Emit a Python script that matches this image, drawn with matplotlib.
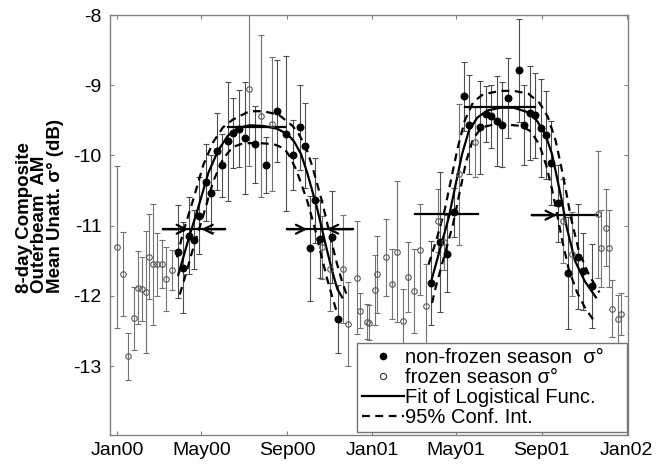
import pandas as pd
import matplotlib
matplotlib.use('Agg')
import matplotlib.pyplot as plt
import matplotlib.dates as mdates

plt.rcParams['font.family'] = ['Liberation Sans', 'DejaVu Sans']
plt.rcParams['axes.unicode_minus'] = False

# 8-day composites, days counted from 1 Jan 2000
nf_day = [88, 94, 104, 111, 118, 127, 135, 143, 151, 159, 167, 175, 183, 198, 214, 229,
          243, 253, 262, 270, 277, 284, 291, 308, 317,
          450, 464, 474, 483, 498, 505, 521, 529, 537, 545, 552, 561, 576, 584, 593,
          600, 608, 615, 623, 632, 647, 661, 668, 681]
nf_sig = [-11.37, -11.60, -11.14, -11.20, -10.86, -10.38, -10.54, -9.94, -10.14, -9.80,
          -9.68, -9.62, -9.75, -9.84, -10.14, -9.37, -9.69, -9.99, -9.60, -9.86, -11.32,
          -10.64, -11.19, -11.16, -12.33,
          -11.82, -11.23, -11.40, -10.81, -9.16, -9.56, -9.60, -9.41, -9.44, -9.51, -9.56,
          -9.18, -8.79, -9.56, -9.40, -9.43, -9.61, -9.71, -10.11, -10.68, -11.67, -11.44,
          -11.65, -11.86]
nf_err = [0.66, 0.65, 0.55, 0.42, 0.55, 0.55, 0.55, 0.55, 0.45, 0.85, 0.50, 0.55, 0.80,
          0.55, 0.40, 0.73, 1.10, 0.50, 0.60, 0.60, 0.75, 0.60, 0.55, 0.65, 0.48,
          0.60, 1.00, 0.55, 0.35, 0.49, 0.70, 0.66, 0.40, 0.45, 0.64, 0.60, 0.57, 0.74,
          0.57, 0.67, 0.60, 0.70, 0.63, 0.60, 0.55, 0.80, 0.75, 0.55, 0.60]

fr_day = [0, 8, 16, 24, 30, 36, 42, 46, 52, 58, 64, 71, 79, 190, 206, 222, 294, 305, 324,
          332, 344, 349, 358,
          362, 370, 373, 386, 394, 401, 410, 418, 426, 435, 443, 460, 469, 490, 513, 640,
          653, 690, 694, 702, 706, 710, 718, 723]
fr_sig = [-11.30, -11.69, -12.86, -12.32, -11.88, -11.90, -11.94, -11.44, -11.55, -11.55,
          -11.55, -11.76, -11.63, -9.05, -9.44, -9.55, -11.31, -11.62, -11.62, -12.40,
          -11.74, -12.21, -12.37,
          -12.38, -11.92, -11.69, -11.45, -11.83, -11.37, -12.35, -11.73, -11.93, -11.34,
          -12.14, -10.93, -11.23, -10.27, -9.81, -10.93, -11.40, -10.84, -11.32, -11.03,
          -11.32, -12.18, -12.33, -12.26]
fr_err = [1.15, 0.60, 0.33, 0.45, 0.52, 0.45, 0.87, 0.60, 0.86, 0.45, 0.34, 0.45, 0.28,
          1.10, 1.15, 0.95, 0.45, 0.60, 0.77, 0.60, 0.80, 0.25, 0.25,
          0.25, 0.50, 0.55, 0.55, 0.50, 1.00, 0.45, 0.50, 0.60, 0.65, 0.60, 0.45, 0.40,
          1.00, 0.50, 0.60, 0.60, 0.90, 0.55, 0.55, 0.55, 0.40, 0.35, 0.30]

# logistic fits and their 95% bounds
fit00_day = [88, 102, 116, 131, 145, 159, 173, 190, 210, 230, 245, 254, 264, 273, 280, 287,
             293, 300, 308, 316, 323]
fit00_sig = [-11.70, -11.21, -10.76, -10.25, -9.93, -9.72, -9.61, -9.57, -9.58, -9.62,
             -9.70, -9.80, -9.98, -10.25, -10.50, -10.75, -11.00, -11.30, -11.62, -11.90,
             -12.02]
up00_day = [86, 95, 109, 124, 138, 152, 166, 190, 210, 232, 252, 261, 271, 280, 287, 294,
            300, 307, 315, 323, 330]
up00_sig = [-11.45, -11.09, -10.64, -10.13, -9.81, -9.60, -9.49, -9.37, -9.37, -9.42,
            -9.58, -9.70, -9.88, -10.15, -10.40, -10.65, -10.90, -11.20, -11.52, -11.80,
            -12.00]
lo00_day = [90, 95, 109, 123, 138, 152, 166, 180, 200, 225, 240, 247, 257, 266, 273, 280,
            286, 293, 301, 309, 315]
lo00_sig = [-11.98, -11.82, -11.33, -10.88, -10.37, -10.05, -9.88, -9.83, -9.82, -9.84,
            -9.90, -10.00, -10.20, -10.45, -10.65, -10.90, -11.12, -11.42, -11.74, -12.02,
            -12.22]

fit01_day = [450, 464, 476, 485, 495, 505, 517, 531, 550, 569, 588, 602, 614, 624, 631, 638,
             645, 657, 671, 687]
fit01_sig = [-11.82, -11.31, -10.88, -10.45, -9.98, -9.64, -9.46, -9.36, -9.32, -9.32,
             -9.38, -9.50, -9.69, -9.98, -10.31, -10.64, -11.02, -11.50, -11.79, -12.02]
up01_day = [447, 458, 470, 479, 489, 499, 511, 525, 550, 569, 590, 606, 618, 629, 637, 644,
            651, 663, 677, 692]
up01_sig = [-11.55, -11.21, -10.78, -10.35, -9.88, -9.50, -9.24, -9.13, -9.08, -9.08,
            -9.12, -9.25, -9.45, -9.78, -10.15, -10.50, -10.88, -11.38, -11.70, -11.95]
lo01_day = [452, 456, 470, 482, 491, 501, 511, 523, 540, 560, 580, 594, 606, 616, 624, 631,
            638, 648, 660, 672, 684]
lo01_sig = [-12.10, -11.92, -11.41, -10.98, -10.55, -10.08, -9.76, -9.60, -9.56, -9.56,
            -9.58, -9.66, -9.85, -10.15, -10.48, -10.82, -11.18, -11.62, -11.95, -12.18,
            -12.35]

# transition markers: (start, end, level, arrow tips)
trans_start = [66, 244, 428, 595]
trans_end = [155, 338, 518, 689]
trans_level = [-11.05, -11.05, -10.84, -10.85]
tip_right = [102, 273, None, 631]
tip_left = [121, 301, None, None]
# plateau segments
plat_start = [159, 499]
plat_end = [241, 600]
plat_level = [-9.60, -9.31]

xtick_dates = ['2000-01-01', '2000-05-01', '2000-09-01', '2001-01-01', '2001-05-01',
               '2001-09-01', '2002-01-01']

base = pd.Timestamp('2000-01-01')


def to_dt(days):
    return [base + pd.Timedelta(days=d) for d in days]


fig = plt.figure(figsize=(6.65, 4.66), dpi=100)
ax = fig.add_axes([110 / 665, 1 - 435 / 466, 518 / 665, 420 / 466])

ax.errorbar(to_dt(fr_day), fr_sig, yerr=fr_err, fmt='none', ecolor='0.45', elinewidth=0.8,
            capsize=2, capthick=0.8)
ax.errorbar(to_dt(nf_day), nf_sig, yerr=nf_err, fmt='none', ecolor='0.3', elinewidth=0.8,
            capsize=2, capthick=0.8)

ax.plot(to_dt(fit00_day), fit00_sig, 'k-', lw=1.6)
ax.plot(to_dt(fit01_day), fit01_sig, 'k-', lw=1.6)
for d, s in [(up00_day, up00_sig), (lo00_day, lo00_sig), (up01_day, up01_sig), (lo01_day, lo01_sig)]:
    ax.plot(to_dt(d), s, 'k--', lw=1.6, dashes=(3.5, 2.5))

for a, b, lev in zip(plat_start, plat_end, plat_level):
    ax.plot(to_dt([a, b]), [lev, lev], 'k-', lw=1.6)

for a, b, lev, tr, tl in zip(trans_start, trans_end, trans_level, tip_right, tip_left):
    ax.plot(to_dt([a, b]), [lev, lev], 'k-', lw=1.6)
    if tr is not None:
        ax.annotate('', xy=(to_dt([tr])[0], lev), xytext=(to_dt([a])[0], lev),
                    arrowprops=dict(arrowstyle='->', lw=1.6, color='k', mutation_scale=16,
                                    shrinkA=0, shrinkB=0))
    if tl is not None:
        ax.annotate('', xy=(to_dt([tl])[0], lev), xytext=(to_dt([b])[0], lev),
                    arrowprops=dict(arrowstyle='->', lw=1.6, color='k', mutation_scale=16,
                                    shrinkA=0, shrinkB=0))

ax.plot(to_dt(nf_day), nf_sig, 'o', color='k', ms=4.7, ls='none')
ax.plot(to_dt(fr_day), fr_sig, 'o', mfc='none', mec='0.35', mew=0.8, ms=4, ls='none')

# legend proxies
l_nf, = ax.plot([], [], 'o', color='k', ms=4.5, ls='none')
l_fr, = ax.plot([], [], 'o', mfc='white', mec='0.2', mew=0.8, ms=4.5, ls='none')
l_fit, = ax.plot([], [], 'k-', lw=1.6)
l_ci, = ax.plot([], [], 'k--', lw=1.6, dashes=(3.5, 2.5))
leg = ax.legend([l_nf, l_fr, l_fit, l_ci],
                ['non-frozen season  σ°', 'frozen season σ°', 'Fit of Logistical Func.',
                 '95% Conf. Int.'],
                loc='lower left', bbox_to_anchor=(247 / 518, 0.007, 270 / 518, 0.2),
                mode='expand', fontsize=14.5, frameon=True, fancybox=False,
                edgecolor='0.45', framealpha=1, borderpad=0.25, labelspacing=0.05,
                handlelength=2.1, handletextpad=0.05, borderaxespad=0)
leg.get_frame().set_linewidth(1.0)

ax.set_xlim(pd.Timestamp('1999-12-22'), pd.Timestamp('2002-01-03'))
ax.set_ylim(-13.98, -8)
ax.set_yticks([-13, -12, -11, -10, -9, -8])
ax.set_yticklabels(['-13', '-12', '-11', '-10', '-9', '-8'])
ax.set_xticks(pd.to_datetime(xtick_dates))
ax.xaxis.set_major_formatter(mdates.DateFormatter('%b%y'))
ax.tick_params(direction='in', length=3, width=0.8, color='0.5', top=True, right=True,
               labelsize=14)
ax.tick_params(axis='y', pad=6)
ax.tick_params(axis='x', pad=5)
for sp in ax.spines.values():
    sp.set_color('0.5')
    sp.set_linewidth(1.0)

fig.text(40 / 665, 1 - 293 / 466, '8-day Composite\nOuterbeam  AM\nMean Unatt. σ° (dB)',
         rotation=90, ha='center', va='bottom', multialignment='left', fontsize=13.5,
         fontweight='bold', linespacing=0.85)

plt.savefig('out.png', dpi=100)
